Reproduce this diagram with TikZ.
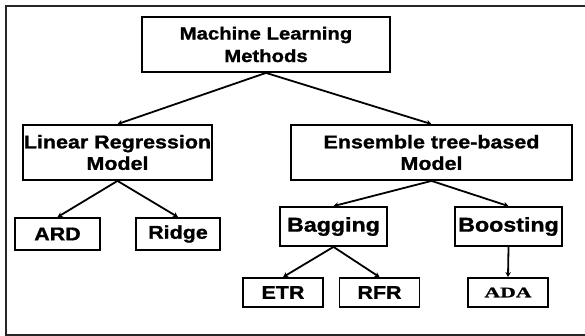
\documentclass[tikz,border=0pt]{standalone}
\usepackage{fontspec}
\usetikzlibrary{arrows.meta}
\newfontfamily\boxfont{Liberation Sans}[FakeStretch=1.16,FakeBold=1.2]
\newfontfamily\adafont{Liberation Serif}[FakeStretch=1.5,FakeBold=1]
\tikzset{
  mlbox/.style={draw,line width=1.8pt,inner sep=0pt,align=center,
    font=\boxfont\bfseries\fontsize{18.5}{21.5}\selectfont},
  link/.style={line width=1.8pt,-{Stealth[length=5pt,width=5.5pt]}}
}

\begin{document}
\begin{tikzpicture}[x=1pt,y=-1pt]
\useasboundingbox (0,0) rectangle (585,336);
\draw[line width=2pt,black!85] (5.5,6) rectangle (600,335);
\node[mlbox,minimum width=248pt,minimum height=55pt,font=\boxfont\bfseries\fontsize{17.5}{22.5}\selectfont] (ml) at (266,44.5) {Machine Learning\\Methods};
\node[mlbox,minimum width=189pt,minimum height=55pt] (lin) at (117.5,152.5) {Linear Regression\\Model};
\node[mlbox,minimum width=281pt,minimum height=55pt] (ens) at (431.5,152.5) {Ensemble tree-based\\Model};
\foreach \n/\t/\x/\w in {ard/ARD/57.5/85,ridge/Ridge/178/84}
  \node[mlbox,minimum width=\w pt,minimum height=32pt] (\n) at (\x,234) {\t};
\foreach \n/\t/\x in {bag/Bagging/333.5,boost/Boosting/508.5}
  \node[mlbox,minimum width=107pt,minimum height=39pt,font=\boxfont\bfseries\fontsize{20}{22}\selectfont] (\n) at (\x,226.5) {\t};
\foreach \n/\t/\x in {etr/ETR/283,rfr/RFR/379.5}
  \node[mlbox,minimum width=80pt,minimum height=29pt] (\n) at (\x,292.5) {\t};
\node[mlbox,minimum width=80pt,minimum height=29pt,font=\adafont\bfseries\fontsize{14.5}{16}\selectfont] (ada) at (508,292.5) {ADA};
\foreach \a/\b in {ml/lin,ml/ens,lin/ard,lin/ridge,ens/bag,ens/boost,bag/etr,bag/rfr,boost/ada}
  \draw[link] (\a.south) -- (\b.north);
\end{tikzpicture}
\end{document}
